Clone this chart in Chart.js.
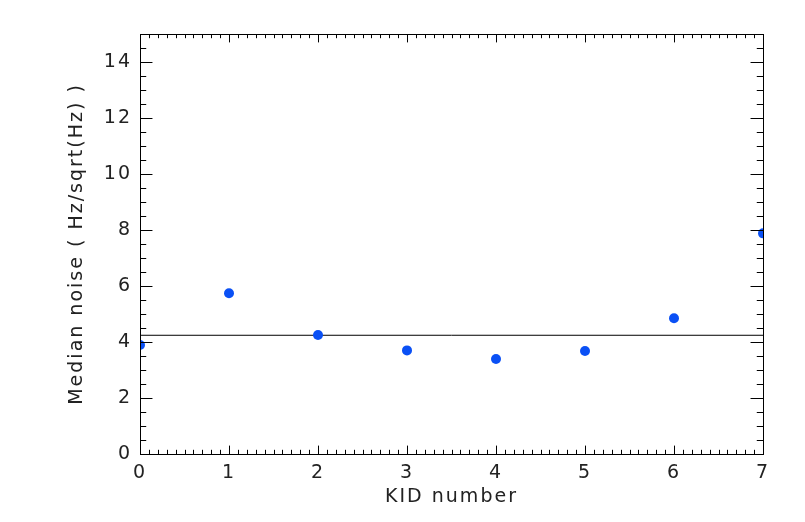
<!DOCTYPE html>
<html>
<head>
<meta charset="utf-8">
<script src="https://cdn.jsdelivr.net/npm/chart.js@4.4.1/dist/chart.umd.min.js"></script>
<style>
  html, body { margin: 0; padding: 0; background: #fff; }
  #wrap { width: 805px; height: 522px; }
</style>
</head>
<body>
<div id="wrap"><canvas id="noiseChart"></canvas></div>
<script>
// KID index and median noise
const kidNumbers = [0, 1, 2, 3, 4, 5, 6, 7];
const medianNoise = [3.89, 5.74, 4.25, 3.70, 3.39, 3.68, 4.85, 7.88];
const referenceLevel = 4.24;

// axis ticks
const xTickValues = [0, 1, 2, 3, 4, 5, 6, 7];
const yTickValues = [0, 2, 4, 6, 8, 10, 12, 14];
const xMinorStep = 0.1;
const yMinorStep = 0.5;

const labelFont = { family: 'DejaVu Sans', size: 19 };
const inkColor = '#222';

// IDL style frame: box around the plot with inward ticks on all four sides
const frameTicks = {
    id: 'frameTicks',
    beforeLayout(chart) {
        chart.ctx.letterSpacing = '2px';
    },
    beforeDraw(chart) {
        chart.ctx.letterSpacing = '2px';
    },
    afterDatasetsDraw(chart) {
        const { ctx, chartArea: a, scales: { x, y } } = chart;
        const w = a.right - a.left;
        const h = a.bottom - a.top;
        const yMajor = w * 0.02, yMinor = yMajor / 2;
        const xMajor = h * 0.02, xMinor = xMajor / 2;

        ctx.save();
        ctx.strokeStyle = '#000';
        ctx.lineWidth = 1;
        ctx.beginPath();

        // x ticks, bottom and top
        const xCount = Math.round((x.max - x.min) / xMinorStep);
        for (let i = 0; i <= xCount; i++) {
            const v = x.min + i * xMinorStep;
            const px = Math.round(x.getPixelForValue(v)) + 0.5;
            const len = xTickValues.some(t => Math.abs(t - v) < 1e-6) ? xMajor : xMinor;
            ctx.moveTo(px, a.bottom);
            ctx.lineTo(px, a.bottom - len);
            ctx.moveTo(px, a.top);
            ctx.lineTo(px, a.top + len);
        }

        // y ticks, left and right
        const yCount = Math.round((y.max - y.min) / yMinorStep);
        for (let i = 0; i <= yCount; i++) {
            const v = y.min + i * yMinorStep;
            const py = Math.round(y.getPixelForValue(v)) + 0.5;
            const len = yTickValues.some(t => Math.abs(t - v) < 1e-6) ? yMajor : yMinor;
            ctx.moveTo(a.left, py);
            ctx.lineTo(a.left + len, py);
            ctx.moveTo(a.right, py);
            ctx.lineTo(a.right - len, py);
        }
        ctx.stroke();

        ctx.strokeRect(Math.round(a.left) + 0.5, Math.round(a.top) + 0.5,
            Math.round(w), Math.round(h));
        ctx.restore();
    }
};

const ctx = document.getElementById('noiseChart').getContext('2d');

const noiseChart = new Chart(ctx, {
    type: 'scatter',
    data: {
        datasets: [{
            label: 'Median noise',
            data: kidNumbers.map((k, i) => ({ x: k, y: medianNoise[i] })),
            pointRadius: 5,
            pointHoverRadius: 5,
            pointBackgroundColor: '#0a50f5',
            pointBorderWidth: 0,
            clip: 0
        }, {
            type: 'line',
            label: 'Reference',
            data: [
                { x: kidNumbers[0], y: referenceLevel },
                { x: kidNumbers[kidNumbers.length - 1], y: referenceLevel }
            ],
            borderColor: '#000',
            borderWidth: 1,
            pointRadius: 0,
            fill: false
        }]
    },
    options: {
        responsive: true,
        maintainAspectRatio: false,
        animation: false,
        layout: {
            padding: { top: 34, right: 42, bottom: 0, left: 0 }
        },
        scales: {
            x: {
                type: 'linear',
                min: 0,
                max: 7,
                afterBuildTicks: (scale) => { scale.ticks = xTickValues.map(v => ({ value: v })); },
                afterFit: (scale) => { scale.height = 68; },
                grid: { display: false, drawTicks: false },
                border: { display: false },
                ticks: { color: inkColor, font: labelFont, padding: 8, maxRotation: 0 },
                title: {
                    display: true,
                    text: 'KID number',
                    color: inkColor,
                    font: labelFont,
                    padding: { top: 0, bottom: 14 }
                }
            },
            y: {
                type: 'linear',
                min: 0,
                max: 15,
                afterBuildTicks: (scale) => { scale.ticks = yTickValues.map(v => ({ value: v })); },
                afterFit: (scale) => { scale.width = 140; },
                grid: { display: false, drawTicks: false },
                border: { display: false },
                ticks: { color: inkColor, font: labelFont, padding: 8 },
                title: {
                    display: true,
                    text: 'Median noise ( Hz/sqrt(Hz) )',
                    color: inkColor,
                    font: labelFont,
                    padding: { top: 66, bottom: 0 }
                }
            }
        },
        plugins: {
            legend: { display: false },
            tooltip: { enabled: false }
        }
    },
    plugins: [frameTicks]
});
</script>
</body>
</html>
